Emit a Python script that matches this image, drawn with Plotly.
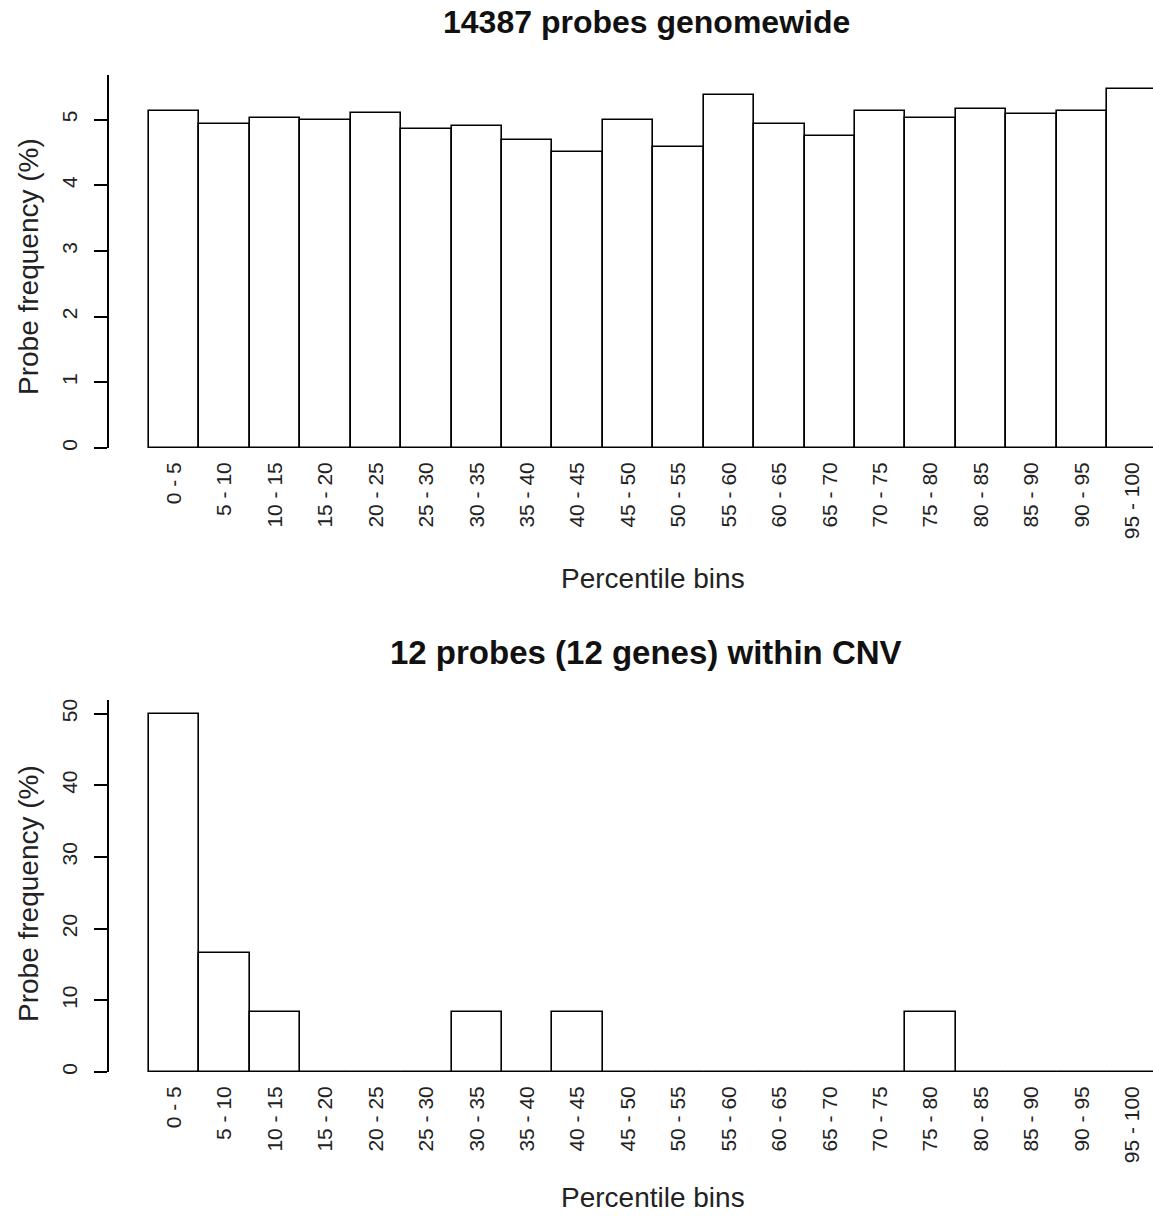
import plotly.graph_objects as go
from plotly.subplots import make_subplots

bins = ["0 - 5", "5 - 10", "10 - 15", "15 - 20", "20 - 25", "25 - 30", "30 - 35",
        "35 - 40", "40 - 45", "45 - 50", "50 - 55", "55 - 60", "60 - 65", "65 - 70",
        "70 - 75", "75 - 80", "80 - 85", "85 - 90", "90 - 95", "95 - 100"]
genomewide = [5.13, 4.94, 5.02, 4.99, 5.10, 4.86, 4.91, 4.69, 4.51, 4.99,
              4.58, 5.38, 4.94, 4.75, 5.13, 5.02, 5.16, 5.08, 5.13, 5.46]
cnv = [50.0, 16.67, 8.33, 0, 0, 0, 8.33, 0, 8.33, 0,
       0, 0, 0, 0, 0, 8.33, 0, 0, 0, 0]
top_title = "14387 probes genomewide"
bottom_title = "12 probes (12 genes) within CNV"
x_title = "Percentile bins"
y_title = "Probe frequency (%)"

W, H = 1153, 1216
L, R, T, B = 109, 0, 75, 144
plot_h = H - T - B
top_dom = [(1072 - 448) / plot_h, 1.0]
bot_dom = [0.0, (1072 - 700) / plot_h]

FONT = "Liberation Sans, Arial, sans-serif"
idx = list(range(len(bins)))

fig = make_subplots(rows=2, cols=1)
for row, vals in ((1, genomewide), (2, cnv)):
    fig.add_trace(go.Bar(x=idx, y=vals, width=1.0,
                         marker=dict(color="white", line=dict(color="black", width=1.6)),
                         showlegend=False, hoverinfo="skip"), row=row, col=1)
    fig.add_trace(go.Scatter(x=[idx[0] - 0.5, idx[-1] + 0.5], y=[0, 0], mode="lines",
                             line=dict(color="black", width=1.6),
                             showlegend=False, hoverinfo="skip"), row=row, col=1)

xcommon = dict(range=[-1.293, 19.41], tickmode="array", tickvals=idx, ticktext=bins,
               tickangle=-90, ticks="", showline=False, showgrid=False, zeroline=False,
               tickfont=dict(family=FONT, size=21, color="#222"), ticklabelstandoff=9)
ycommon = dict(tickangle=-90, ticks="outside", ticklen=13, tickwidth=1.6, tickcolor="black",
               showline=True, linecolor="black", linewidth=1.6, showgrid=False, zeroline=False,
               tickfont=dict(family=FONT, size=21, color="#222"), ticklabelstandoff=9)

fig.update_layout(
    width=W, height=H, margin=dict(l=L, r=R, t=T, b=B),
    paper_bgcolor="white", plot_bgcolor="white", bargap=0,
    xaxis=dict(domain=[0, 1], **xcommon),
    xaxis2=dict(domain=[0, 1], **xcommon),
    yaxis=dict(domain=top_dom, range=[0, 5.68], tickvals=[0, 1, 2, 3, 4, 5], **ycommon),
    yaxis2=dict(domain=bot_dom, range=[0, 51.9], tickvals=[0, 10, 20, 30, 40, 50], **ycommon),
)

def px_x(p):
    return (p - L) / (W - L - R)

def px_y(p):
    return (H - B - p) / plot_h

ann = []
for title, ty, fs in ((top_title, 22, 32), (bottom_title, 652, 33)):
    ann.append(dict(text="<b>" + title + "</b>", x=px_x(646), y=px_y(ty), xref="paper", yref="paper",
                    showarrow=False, xanchor="center", yanchor="middle",
                    font=dict(family=FONT, size=fs, color="#111")))
for ty in (578, 1197):
    ann.append(dict(text=x_title, x=px_x(653), y=px_y(ty), xref="paper", yref="paper",
                    showarrow=False, xanchor="center", yanchor="middle",
                    font=dict(family=FONT, size=28, color="#222")))
for ty in (267, 894):
    ann.append(dict(text=y_title, x=px_x(28), y=px_y(ty), xref="paper", yref="paper",
                    showarrow=False, xanchor="center", yanchor="middle", textangle=-90,
                    font=dict(family=FONT, size=28, color="#222")))
fig.update_layout(annotations=ann)

fig.write_html("out.html", config={"displayModeBar": False},
               post_script="document.body.style.margin='0';document.body.style.overflow='hidden';")
